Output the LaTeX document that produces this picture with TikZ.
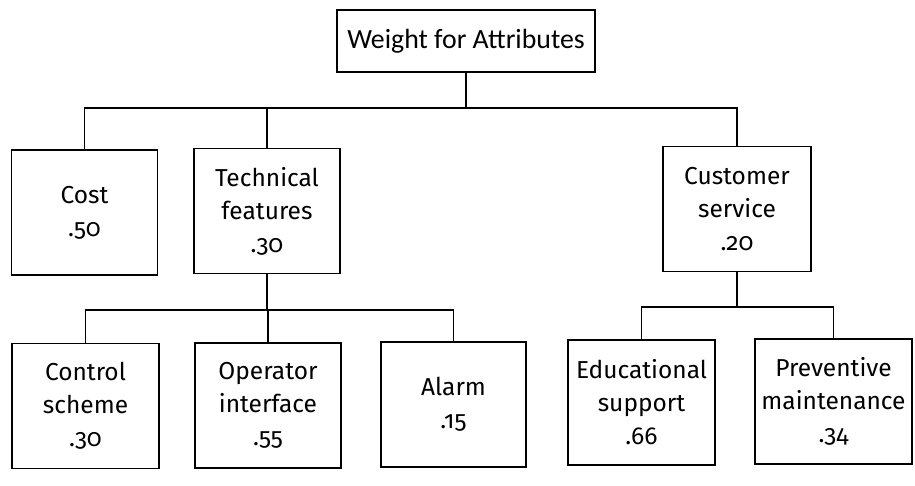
\documentclass[tikz,border=0pt]{standalone}
\usepackage{fontspec}
\setmainfont{Fira Sans}[Numbers=OldStyle]
\newfontfamily\headfont{Carlito}
\usepackage{tikz}
\usetikzlibrary{positioning}

\tikzset{
  attr/.style={draw,line width=1.1pt,align=center,inner sep=2pt,
    minimum width=146pt,minimum height=125pt,
    font=\fontsize{24.5}{33}\selectfont},
  link/.style={line width=1.1pt}
}

\begin{document}
\begin{tikzpicture}[x=1pt,y=-1pt]
\useasboundingbox (0,0) rectangle (915,485);

\node (top) at (466,41) [draw,line width=1.1pt,minimum width=258pt,minimum height=62pt,font=\headfont\fontsize{27.8}{33}\selectfont] {Weight for Attributes};

\node (cost) at (84.5,212.5) [attr] {Cost\\.50};
\node (tech) at (267,211) [attr] {Technical\\features\\.30};
\node (cust) at (737,209) [attr,minimum width=148pt] {Customer\\service\\.20};

\node (ctrl) at (85.5,406) [attr,minimum width=147pt] {Control\\scheme\\.30};
\node (oper) at (268,405.5) [attr] {Operator\\interface\\.55};
\node (alarm) at (453.5,404.5) [attr,minimum width=145pt] {Alarm\\.15};
\node (edu) at (641.5,402.5) [attr,minimum width=147pt] {Educational\\support\\.66};
\node (prev) at (833.5,401.5) [attr,minimum width=157pt] {Preventive\\maintenance\\.34};

\coordinate (topbus) at (466,108);
\coordinate (techbus) at (267,310);
\coordinate (custbus) at (737,307);

\draw[link] (top.south) -- (topbus);
\draw[link] (cost.north) |- (topbus) -| (cust.north);
\draw[link] (tech.north) -- (tech.north |- topbus);

\draw[link] (tech.south) -- (techbus);
\draw[link] (ctrl.north) |- (techbus) -| (alarm.north);
\draw[link] (oper.north) -- (oper.north |- techbus);

\draw[link] (cust.south) -- (custbus);
\draw[link] (edu.north) |- (custbus) -| (prev.north);

\end{tikzpicture}
\end{document}
